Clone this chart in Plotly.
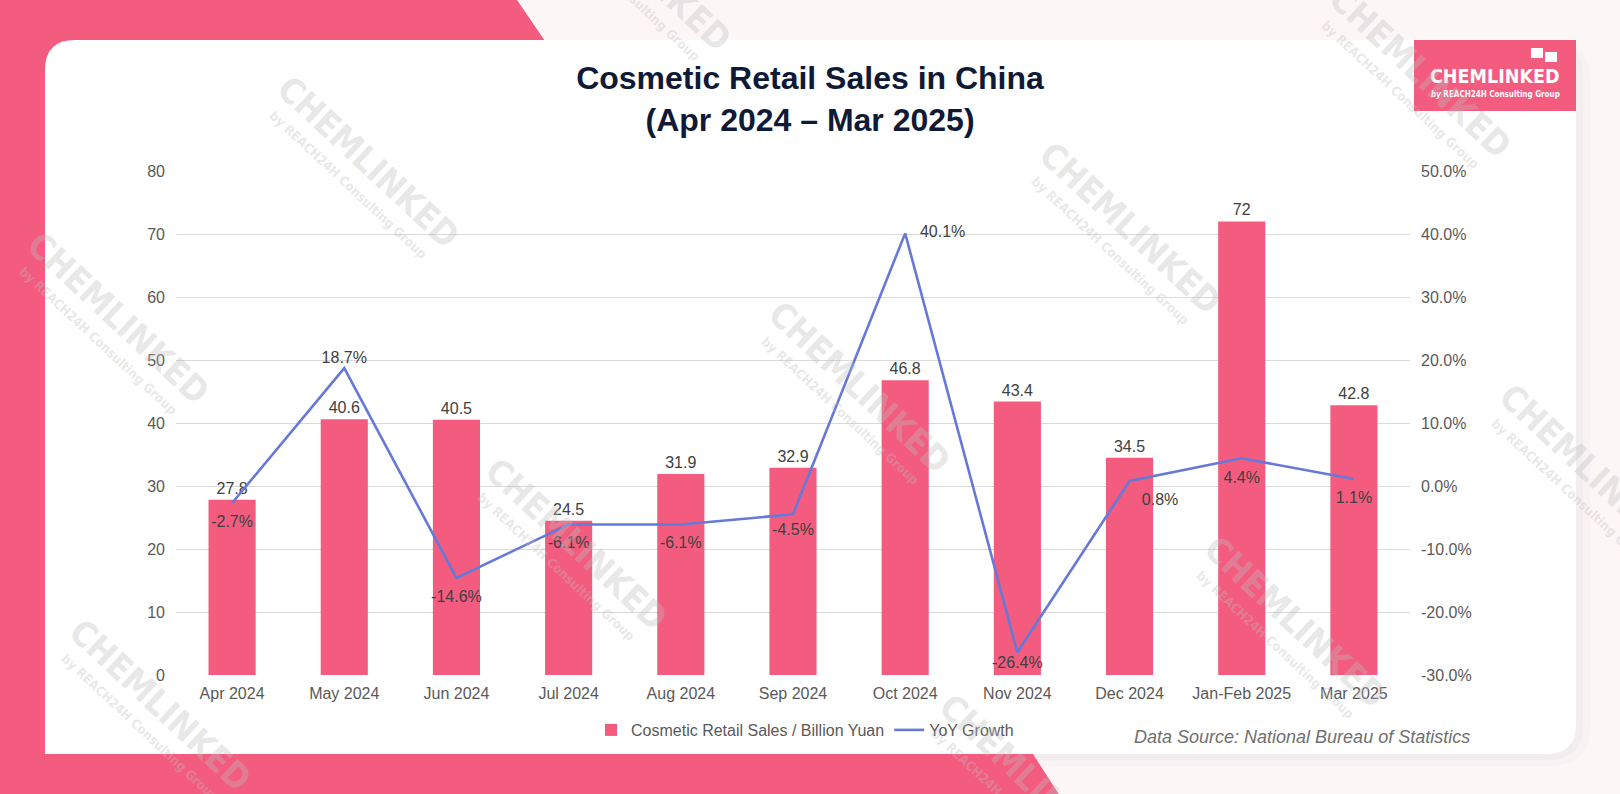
import plotly.graph_objects as go
from plotly.subplots import make_subplots

# ---------------- data ----------------
categories = ["Apr 2024", "May 2024", "Jun 2024", "Jul 2024", "Aug 2024", "Sep 2024",
              "Oct 2024", "Nov 2024", "Dec 2024", "Jan-Feb 2025", "Mar 2025"]
sales = [27.8, 40.6, 40.5, 24.5, 31.9, 32.9, 46.8, 43.4, 34.5, 72, 42.8]
yoy = [-2.7, 18.7, -14.6, -6.1, -6.1, -4.5, 40.1, -26.4, 0.8, 4.4, 1.1]
yoy_label_pos = ["bottom center", "top center", "bottom center", "bottom center", "bottom center",
                 "bottom center", "middle right", "bottom center", "bottom right", "bottom center",
                 "bottom center"]
# invisible marker sizes only used to set label offsets from the line points
yoy_label_gap = [17, 1, 17, 17, 17, 13, 22, 4, 18, 18, 18]
left_ticks = [0, 10, 20, 30, 40, 50, 60, 70, 80]
right_ticks = [-30, -20, -10, 0, 10, 20, 30, 40, 50]

# ---------------- layout geometry (pixels) ----------------
FW, FH = 1620, 794
L, R, T, B = 176, 1410, 171, 675
W, H = R - L, B - T


def fx(x):
    return (x - L) / W


def fy(y):
    return (B - y) / H


PINK = "#F35C7F"
BLUE = "#6678D8"
FONT = "Arial, Liberation Sans, sans-serif"
NARROW = "Liberation Sans Narrow, Arial Narrow, DejaVu Sans Condensed, sans-serif"

fig = make_subplots(specs=[[{"secondary_y": True}]])

fig.add_trace(go.Bar(
    x=categories, y=sales, name="Cosmetic Retail Sales / Billion Yuan",
    marker=dict(color=PINK, line=dict(width=0)),
    text=[f"{v:g}" for v in sales], textposition="outside",
    textfont=dict(size=16, color="#404040", family=FONT),
    cliponaxis=False,
), secondary_y=False)

fig.add_trace(go.Scatter(
    x=categories, y=yoy, name="YoY Growth", mode="lines+markers+text",
    line=dict(color=BLUE, width=2.6),
    marker=dict(size=yoy_label_gap, color="rgba(0,0,0,0)", line=dict(width=0)),
    text=[f"{v:.1f}%" for v in yoy], textposition=yoy_label_pos,
    textfont=dict(size=16, color="#404040", family=FONT),
    cliponaxis=False,
), secondary_y=True)


def rrect(x0, y0, x1, y1, r):
    pts = [
        ("M", (x0 + r, y0)), ("L", (x1 - r, y0)), ("Q", (x1, y0), (x1, y0 + r)),
        ("L", (x1, y1 - r)), ("Q", (x1, y1), (x1 - r, y1)), ("L", (x0 + r, y1)),
        ("Q", (x0, y1), (x0, y1 - r)), ("L", (x0, y0 + r)), ("Q", (x0, y0), (x0 + r, y0)),
    ]
    s = ""
    for p in pts:
        cmd = p[0]
        coords = " ".join(f"{fx(a):.5f},{fy(b):.5f}" for a, b in p[1:])
        s += f"{cmd} {coords} "
    return s + "Z"


def poly(points):
    return "M " + " L ".join(f"{fx(a):.5f},{fy(b):.5f}" for a, b in points) + " Z"


def pshape(path, color):
    return dict(type="path", path=path, fillcolor=color, line=dict(width=0),
                xref="paper", yref="paper", layer="below")


def rshape(x0, y0, x1, y1, color):
    return dict(type="rect", x0=fx(x0), x1=fx(x1), y0=fy(y0), y1=fy(y1), fillcolor=color,
                line=dict(width=0), xref="paper", yref="paper", layer="below")


shapes = []
# pink decorative background pieces
shapes.append(pshape(poly([(0, 0), (517, 0), (545, 41), (545, 120), (0, 120)]), PINK))
shapes.append(rshape(0, 0, 46, FH, PINK))
# card shadow
shapes.append(pshape(rrect(45, 40, 1590, 766, 40), "rgba(140,140,170,0.035)"))
shapes.append(pshape(rrect(45, 40, 1583, 760, 35), "rgba(140,140,170,0.045)"))
# white card
shapes.append(pshape(rrect(45, 40, 1576, 754, 30), "white"))
shapes.append(rshape(45, 700, 120, 754, "white"))
# bottom pink band
shapes.append(pshape(poly([(0, 754), (1033, 754), (1060, FH + 2), (0, FH + 2)]), PINK))
# logo box + chat bubbles
shapes.append(rshape(1414, 40, 1576, 111, PINK))
shapes.append(rshape(1531, 48, 1543, 58, "white"))
shapes.append(rshape(1545, 52, 1557, 62, "white"))

annotations = []
# logo text
annotations.append(dict(text="<b>CHEMLINKED</b>", x=fx(1495), y=fy(76), xref="paper", yref="paper",
                        showarrow=False, font=dict(size=19.5, color="white", family=NARROW),
                        xanchor="center", yanchor="middle"))
annotations.append(dict(text="<b><i>by</i> REACH24H Consulting Group</b>", x=fx(1495), y=fy(94),
                        xref="paper", yref="paper", showarrow=False,
                        font=dict(size=8, color="white", family=NARROW),
                        xanchor="center", yanchor="middle"))
# data source
annotations.append(dict(text="<i>Data Source: National Bureau of Statistics</i>", x=fx(1472), y=fy(737),
                        xref="paper", yref="paper", showarrow=False,
                        font=dict(size=18, color="#6f6f6f", family=FONT),
                        xanchor="right", yanchor="middle"))

# watermarks
wm_centers = [(368, 162), (118, 318), (640, -35), (1420, 72), (1130, 228), (860, 388),
              (576, 544), (160, 705), (1295, 622), (1590, 470), (1030, 780)]
WM = "rgba(190,190,190,0.34)"
for cx, cy in wm_centers:
    annotations.append(dict(text="<b>CHEMLINKED</b>", x=fx(cx), y=fy(cy), xref="paper", yref="paper",
                            showarrow=False, textangle=43,
                            font=dict(size=35, color=WM, family=NARROW),
                            xanchor="center", yanchor="middle"))
    annotations.append(dict(text="<b>by REACH24H Consulting Group</b>", x=fx(cx - 20), y=fy(cy + 22),
                            xref="paper", yref="paper", showarrow=False, textangle=43,
                            font=dict(size=13, color=WM, family=NARROW),
                            xanchor="center", yanchor="middle"))

fig.update_layout(
    width=FW, height=FH,
    margin=dict(l=L, r=FW - R, t=T, b=FH - B, autoexpand=False),
    paper_bgcolor="#FDF6F7", plot_bgcolor="rgba(0,0,0,0)",
    title=dict(text="<b>Cosmetic Retail Sales in China<br>(Apr 2024 – Mar 2025)</b>",
               x=810 / FW, xanchor="center", xref="container",
               y=1 - 89 / FH, yanchor="middle",
               font=dict(size=32, color="#0F1A36", family=FONT)),
    bargap=0.58,
    showlegend=True,
    legend=dict(orientation="h", x=fx(805), xanchor="center", y=fy(730), yanchor="middle",
                font=dict(size=16, color="#595959", family=FONT), bgcolor="rgba(0,0,0,0)",
                itemwidth=30, traceorder="normal"),
    shapes=shapes, annotations=annotations,
    font=dict(family=FONT, color="#595959"),
)

fig.update_xaxes(domain=[0, 1], range=[-0.5, len(categories) - 0.5], autorange=False,
                 showgrid=False, showline=False, ticks="", zeroline=False,
                 tickfont=dict(size=16, color="#595959", family=FONT), ticklabelstandoff=7)
fig.update_yaxes(range=[0, 80], tickvals=left_ticks, showgrid=True, gridcolor="#D9D9D9", gridwidth=1,
                 zeroline=False, showline=False, ticks="",
                 tickfont=dict(size=16, color="#595959", family=FONT), ticklabelstandoff=10,
                 secondary_y=False)
fig.update_yaxes(range=[-30, 50], tickvals=right_ticks, ticktext=[f"{v:.1f}%" for v in right_ticks],
                 showgrid=False, zeroline=False, showline=False, ticks="",
                 tickfont=dict(size=16, color="#595959", family=FONT), ticklabelstandoff=10,
                 secondary_y=True)

fig.write_html("out.html")
